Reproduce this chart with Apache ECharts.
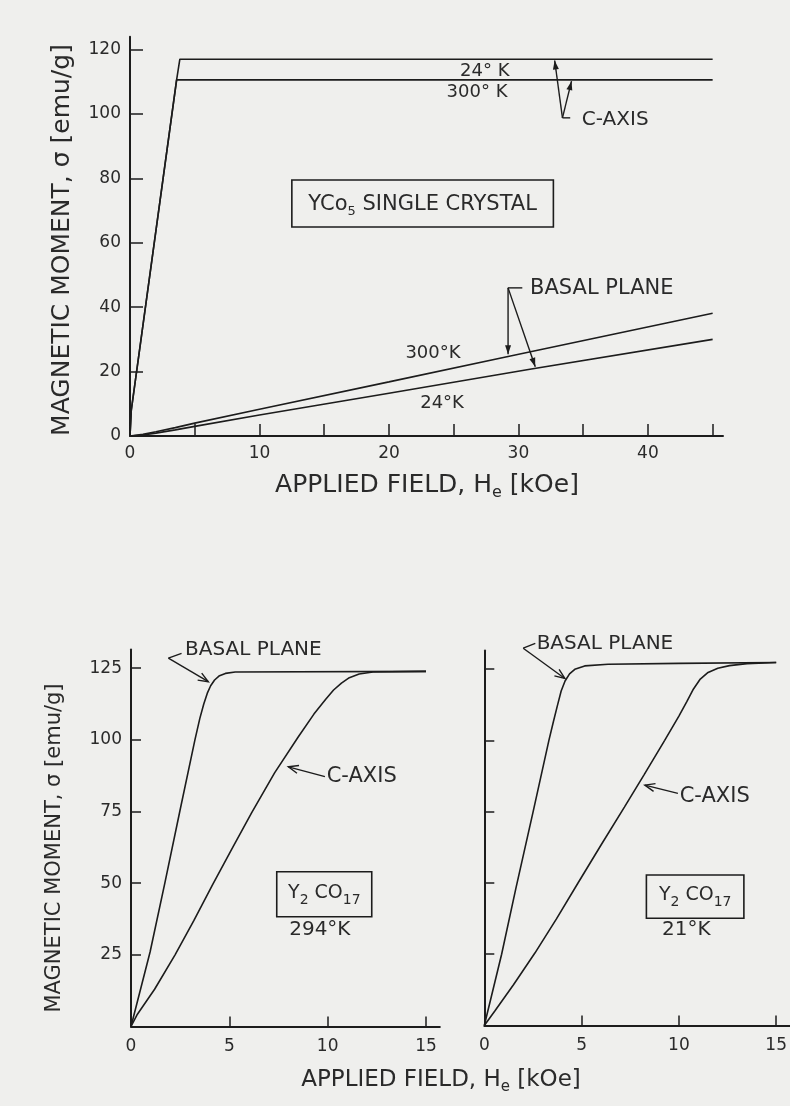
<!DOCTYPE html>
<html><head><meta charset="utf-8">
<script src="https://cdn.jsdelivr.net/npm/echarts@6/dist/echarts.min.js"></script>
<style>html,body{margin:0;padding:0;background:#efefed;}#c{width:790px;height:1106px;}</style>
</head><body><div id="c"></div>
<script>
// ---------- DATA ----------
// Top panel: YCo5 single crystal, field 0..45 kOe
const topXTicks = [0, 5, 10, 15, 20, 25, 30, 35, 40, 45];
const topXLabels = [0, 10, 20, 30, 40];
const topYLabels = [0, 20, 40, 60, 80, 100, 120];
const yco5CAxis24K = [[0, 0], [0.1, 8], [3.6, 110.6], [3.85, 117], [45, 117]];
const yco5CAxis300K = [[0, 0], [0.1, 8], [3.6, 110.6], [45, 110.6]];
const yco5Basal300K = [[0, 0], [1, 0.5], [2, 1.3], [3.5, 2.6], [5, 4], [10, 8.3], [20, 16.8], [29.2, 24.7], [45, 38.1]];
const yco5Basal24K = [[0, 0], [1, 0.3], [2, 0.9], [3.5, 1.9], [5, 3], [10, 6.5], [20, 13.3], [31, 20.8], [45, 30]];

// Bottom panels: Y2Co17, field 0..15 kOe
const botXTicks = [0, 5, 10, 15];
const botXLabels = [0, 5, 10, 15];
const botYTicks = [0, 25, 50, 75, 100, 125];
const botYLabels = [25, 50, 75, 100, 125];
const y2co17Basal294K = [[0, 0], [0.3, 8], [0.97, 26], [1.72, 50], [2.48, 75], [3.25, 100], [3.5, 107.5], [3.7, 112.5], [3.88, 116.3], [4.05, 118.9], [4.25, 120.9], [4.5, 122.4], [4.8, 123.2], [5.3, 123.7], [15, 123.9]];
const y2co17CAxis294K = [[0, 0], [0.3, 4], [1.2, 13], [2.24, 25], [3.2, 37], [4.15, 49.5], [5.13, 62], [6.13, 74.5], [7.3, 88.5], [8.5, 101], [9.3, 109], [9.9, 114.2], [10.3, 117.4], [10.7, 119.8], [11.1, 121.7], [11.6, 123], [12.3, 123.7], [15, 123.9]];
const y2co17Basal21K = [[0, 0], [0.25, 7], [0.89, 25], [1.62, 48], [2.51, 75], [3.32, 100], [3.55, 106.5], [3.75, 112], [3.95, 117.3], [4.15, 120.8], [4.38, 123.3], [4.65, 124.9], [5.16, 126.1], [6.36, 126.7], [10, 127], [15, 127.3]];
const y2co17CAxis21K = [[0, 0], [0.55, 5.2], [1.5, 14.3], [2.6, 25.4], [3.7, 37.3], [4.8, 49.8], [6.0, 63.3], [7.2, 76.6], [8.2, 87.8], [9.27, 100], [10.0, 108.5], [10.4, 113.5], [10.75, 118], [11.1, 121.5], [11.5, 123.8], [12.0, 125.3], [12.6, 126.2], [13.5, 126.9], [15, 127.3]];

// ---------- STYLE ----------
const FONT = 'DejaVu Sans';
const INK = '#1c1c1c';
const TXT = '#2a2a2a';
const BG = '#efefed';

const chart = echarts.init(document.getElementById('c'), null, { renderer: 'canvas' });

function xAx(grid, max, ticks, labels, margin, tickLen) {
  return {
    gridIndex: grid, type: 'value', min: 0, max: max,
    axisLine: { show: true, onZero: false, lineStyle: { color: INK, width: 2 } },
    axisTick: { show: true, inside: true, length: tickLen, customValues: ticks, lineStyle: { color: INK, width: 1.5 } },
    axisLabel: { show: labels.length > 0, customValues: labels, color: TXT, fontSize: 17, fontFamily: FONT, margin: margin },
    splitLine: { show: false }
  };
}
function yAx(grid, max, ticks, labels, tickLen) {
  return {
    gridIndex: grid, type: 'value', min: 0, max: max,
    axisLine: { show: true, onZero: false, lineStyle: { color: INK, width: 2 } },
    axisTick: { show: true, inside: true, length: tickLen, customValues: ticks, lineStyle: { color: INK, width: 1.5 } },
    axisLabel: { show: labels.length > 0, customValues: labels, color: TXT, fontSize: 17, fontFamily: FONT, margin: 9 },
    splitLine: { show: false }
  };
}
function line(xi, data) {
  return {
    type: 'line', xAxisIndex: xi, yAxisIndex: xi, data: data, symbol: 'none',
    smooth: false,
    lineStyle: { color: INK, width: 1.6 }, silent: true
  };
}

const option = {
  backgroundColor: BG,
  animation: false,
  grid: [
    { left: 130, top: 36.7, width: 593, height: 399.3 },
    { left: 131, top: 649.6, width: 308.8, height: 376.9 },
    { left: 484.3, top: 650.5, width: 306, height: 375 }
  ],
  xAxis: [
    xAx(0, 45.8, topXTicks, topXLabels, 9, 12),
    xAx(1, 15.7, botXTicks, botXLabels, 12, 10),
    xAx(2, 15.7, botXTicks, botXLabels, 12, 10)
  ],
  yAxis: [
    yAx(0, 124, topYLabels, topYLabels, 13),
    yAx(1, 131.5, botYTicks, botYLabels, 10),
    yAx(2, 131.5, botYTicks, [], 10)
  ],
  series: [
    line(0, yco5CAxis24K),
    line(0, yco5CAxis300K),
    line(0, yco5Basal300K),
    line(0, yco5Basal24K),
    line(1, y2co17Basal294K),
    line(1, y2co17CAxis294K),
    line(2, y2co17Basal21K),
    line(2, y2co17CAxis21K)
  ]
};
chart.setOption(option);

// ---------- ANNOTATIONS (data coordinates, converted through the axes) ----------
function P(g, pt) { return chart.convertToPixel({ gridIndex: g }, pt); }
const mctx = document.createElement('canvas').getContext('2d');
function tw(str, size) { mctx.font = size + 'px ' + FONT; return mctx.measureText(str).width; }

function text(p, str, size, align, extra) {
  return Object.assign({
    type: 'text', x: p[0], y: p[1],
    style: { text: str, fontSize: size, fontFamily: FONT, fill: TXT, align: align || 'center', verticalAlign: 'middle' }
  }, extra || {});
}
// text made of pieces, some of them subscripts; parts = [[string, isSub], ...]
function subText(p, parts, size, subSize, subDy, align) {
  const widths = parts.map(pt => tw(pt[0], pt[1] ? subSize : size));
  const total = widths.reduce((a, b) => a + b, 0);
  let x = (align === 'left') ? p[0] : p[0] - total / 2;
  const els = [];
  parts.forEach((pt, i) => {
    els.push({
      type: 'text', x: x, y: p[1] + (pt[1] ? subDy : 0),
      style: { text: pt[0], fontSize: pt[1] ? subSize : size, fontFamily: FONT, fill: TXT, align: 'left', verticalAlign: 'middle' }
    });
    x += widths[i];
  });
  return els;
}
function seg(a, b, w) {
  return { type: 'line', shape: { x1: a[0], y1: a[1], x2: b[0], y2: b[1] }, style: { stroke: INK, lineWidth: w || 1.4 } };
}
function arrow(a, b, filled) {
  const ang = Math.atan2(b[1] - a[1], b[0] - a[0]);
  const L = filled ? 9 : 10, W = filled ? 3 : 4;
  const c = Math.cos(ang), s = Math.sin(ang);
  const p1 = [b[0] - L * c + W * s, b[1] - L * s - W * c];
  const p2 = [b[0] - L * c - W * s, b[1] - L * s + W * c];
  const els = [seg(a, b)];
  if (filled) els.push({ type: 'polygon', shape: { points: [b, p1, p2] }, style: { fill: INK } });
  else els.push({ type: 'polyline', shape: { points: [p1, b, p2] }, style: { stroke: INK, lineWidth: 1.4, fill: null } });
  return els;
}
function box(g, a, b) {
  const p = P(g, a), q = P(g, b);
  return {
    type: 'rect', shape: { x: Math.min(p[0], q[0]), y: Math.min(p[1], q[1]), width: Math.abs(q[0] - p[0]), height: Math.abs(q[1] - p[1]) },
    style: { fill: null, stroke: INK, lineWidth: 1.6 }
  };
}

const g = [];
// --- top panel ---
g.push(text(P(0, [27.4, 113.4]), '24° K', 18));
g.push(text(P(0, [26.8, 106.6]), '300° K', 18));
const cStart = P(0, [33.4, 98.8]);
g.push(...arrow(cStart, P(0, [32.8, 116.6]), true));
g.push(...arrow(cStart, P(0, [34.1, 110.2]), true));
g.push(seg(cStart, P(0, [34.0, 98.8])));
g.push(text(P(0, [34.9, 98.2]), 'C-AXIS', 20, 'left'));
g.push(box(0, [12.5, 79.5], [32.7, 64.9]));
g.push(...subText(P(0, [22.6, 72.0]), [['YCo', 0], ['5', 1], [' SINGLE CRYSTAL', 0]], 21, 13, 7));
g.push(text(P(0, [30.9, 45.7]), 'BASAL PLANE', 21, 'left'));
const bStart = P(0, [29.2, 46]);
g.push(seg(bStart, P(0, [30.3, 46])));
g.push(...arrow(bStart, P(0, [29.2, 25.4]), true));
g.push(...arrow(bStart, P(0, [31.3, 21.5]), true));
g.push(text(P(0, [23.4, 25.8]), '300°K', 18));
g.push(text(P(0, [24.1, 10.2]), '24°K', 18));
// titles top
g.push(...subText([427, 485], [['APPLIED FIELD, H', 0], ['e', 1], [' [kOe]', 0]], 25, 16, 8));
g.push(text([62, 240], 'MAGNETIC MOMENT, σ [emu/g]', 25, 'center', { rotation: Math.PI / 2 }));

// --- bottom-left (294 K) ---
g.push(text(P(1, [2.75, 131.3]), 'BASAL PLANE', 20, 'left'));
const bl = P(1, [1.9, 128.5]);
g.push(seg(bl, P(1, [2.57, 130.2])));
g.push(...arrow(bl, P(1, [3.93, 120.3]), false));
g.push(text(P(1, [9.95, 87.2]), 'C-AXIS', 21, 'left'));
g.push(...arrow(P(1, [9.86, 87.2]), P(1, [8.0, 90.6]), false));
g.push(box(1, [7.41, 54.0], [12.24, 38.3]));
g.push(...subText(P(1, [9.83, 46.6]), [['Y', 0], ['2', 1], [' CO', 0], ['17', 1]], 19, 14, 7));
g.push(text(P(1, [9.6, 33.7]), '294°K', 20));

// --- bottom-right (21 K) ---
g.push(text(P(2, [2.69, 134.0]), 'BASAL PLANE', 20, 'left'));
const br = P(2, [2.0, 132.3]);
g.push(seg(br, P(2, [2.62, 134.0])));
g.push(...arrow(br, P(2, [4.14, 121.7]), false));
g.push(text(P(2, [10.04, 80.2]), 'C-AXIS', 21, 'left'));
g.push(...arrow(P(2, [9.95, 81.4]), P(2, [8.25, 84.3]), false));
g.push(box(2, [8.33, 52.8], [13.34, 37.6]));
g.push(...subText(P(2, [10.84, 45.6]), [['Y', 0], ['2', 1], [' CO', 0], ['17', 1]], 19, 14, 7));
g.push(text(P(2, [10.38, 33.5]), '21°K', 20));

// bottom titles
g.push(...subText([441, 1080], [['APPLIED FIELD, H', 0], ['e', 1], [' [kOe]', 0]], 23, 15, 7));
g.push(text([55, 848], 'MAGNETIC MOMENT, σ [emu/g]', 21, 'center', { rotation: Math.PI / 2 }));

chart.setOption({ graphic: g });
</script>
</body></html>
